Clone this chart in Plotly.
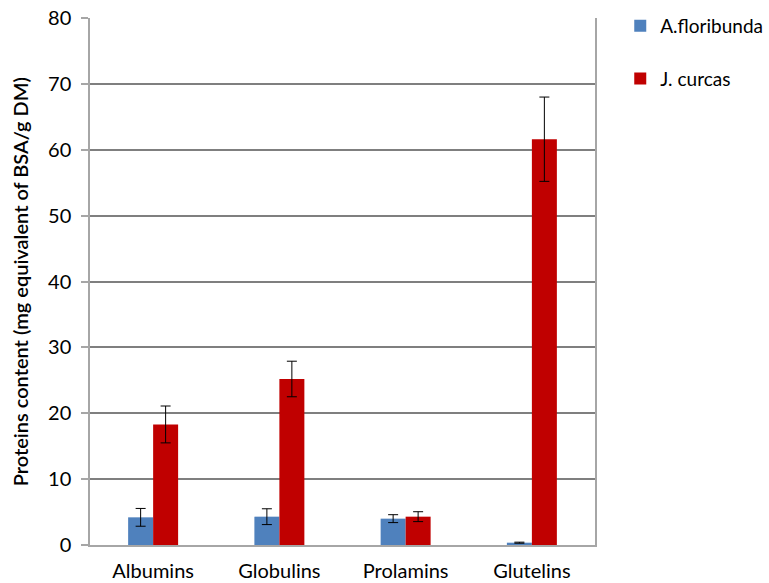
import plotly.graph_objects as go

categories = ["Albumins", "Globulins", "Prolamins", "Glutelins"]
a_floribunda = [4.2, 4.3, 4.0, 0.35]
a_floribunda_err = [1.35, 1.2, 0.6, 0.08]
j_curcas = [18.3, 25.2, 4.3, 61.6]
j_curcas_err = [2.8, 2.7, 0.75, 6.4]
y_ticks = [0, 10, 20, 30, 40, 50, 60, 70, 80]
y_title = "Proteins content (mg equivalent of BSA/g DM)"

FONT = "Lato"

fig = go.Figure()
fig.add_trace(go.Bar(
    x=categories, y=a_floribunda, name="A.floribunda", legendgroup="a",
    marker=dict(color="#4F81BD", line=dict(width=0)),
    error_y=dict(type="data", array=a_floribunda_err, color="black", thickness=1, width=5),
))
fig.add_trace(go.Bar(
    x=categories, y=j_curcas, name="J. curcas", legendgroup="b",
    marker=dict(color="#C00000", line=dict(width=0)),
    error_y=dict(type="data", array=j_curcas_err, color="black", thickness=1, width=5),
))

fig.update_layout(
    width=769, height=583,
    margin=dict(l=90, r=174, t=18, b=38, autoexpand=False),
    paper_bgcolor="white", plot_bgcolor="white",
    barmode="group", bargap=0.604, bargroupgap=0,
    font=dict(family=FONT, color="black", size=19),
    legend=dict(
        x=1.05, y=1.021, xanchor="left", yanchor="top",
        traceorder="grouped", tracegroupgap=25,
        font=dict(family=FONT, size=19, color="black"),
        itemwidth=30,
    ),
    showlegend=True,
)
fig.update_xaxes(
    showline=True, linecolor="#A6A6A6", linewidth=1.5,
    ticks="", showgrid=False, automargin=False,
    tickfont=dict(family=FONT, size=20),
    ticklabelstandoff=7,
)
fig.update_yaxes(
    range=[0, 80], tickvals=y_ticks, ticktext=[str(v) for v in y_ticks],
    showline=True, linecolor="#A6A6A6", linewidth=1.5, mirror=True,
    ticks="outside", ticklen=7, tickcolor="#A6A6A6", tickwidth=1.5,
    showgrid=True, gridcolor="#7F7F7F", gridwidth=1.5,
    zeroline=False, automargin=False,
    tickfont=dict(family=FONT, size=20),
    ticklabelstandoff=6,
)
fig.add_annotation(
    text=y_title, textangle=-90, xref="paper", yref="paper",
    x=-0.139, y=0.5, xanchor="center", yanchor="middle", showarrow=False,
    font=dict(family=FONT, size=20, weight=600, color="black"),
)

fig.write_html(
    "out.html",
    config={"displayModeBar": False},
    post_script="document.body.style.margin='0';document.body.style.overflow='hidden';",
)
